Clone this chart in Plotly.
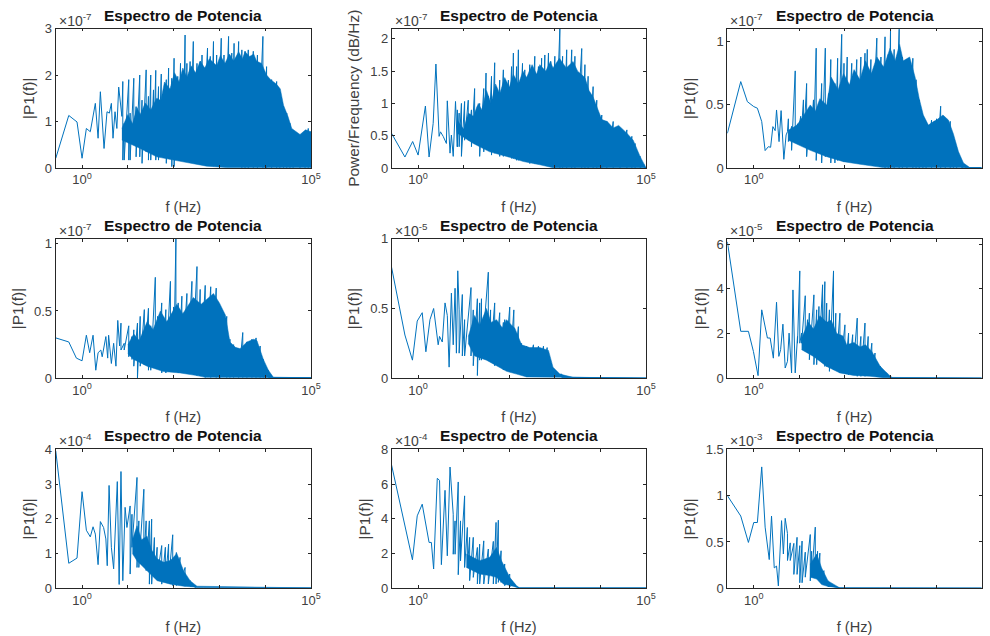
import plotly.graph_objects as go

# Each panel: low-frequency trace, individual spike tips, floor values under them,
# and the solid body of the dense spectrum (top and bottom edges).
# Frequencies are read as log10(f in Hz); amplitudes are in units of the panel's multiplier.
p1_low_f = [-.574,-.29,-.11,0,.094,.18,.29,.35,.40,.48,.545,.596,.64,.676,.72,.76,.80,.87]
p1_low_y = [.21,1.13,.99,.21,.85,.78,1.39,.64,1.64,.42,1.21,1.18,1.39,.64,1.21,.85,1.74,1.11]
p1_up_f = [.87,.89,.92,1.02,1.05,1.13,1.18,1.26,1.31,1.40,1.45,1.50,1.56,1.61,1.67,1.73,1.84,1.89,1.96,2.01,2.09,2.15,2.20,2.25,2.29,2.36,2.43,2.51,2.58,2.62,2.74,2.80,2.87,2.94,3.04,3.10,3.20,3.27,3.32,3.42,3.49,3.56,3.63,3.74,3.83,3.95,4.03,4.14,4.25,4.32,4.40,4.47,4.54,4.61,4.76,4.87,4.94,5]
p1_up_y = [1.11,1.86,.96,1.90,1.18,1.93,1.32,2.00,1.46,2.11,1.54,2.00,1.68,2.10,1.75,2.02,1.90,2.15,1.93,2.36,1.97,2.25,2.07,2.86,2.25,2.29,2.72,2.25,2.29,2.43,2.58,2.40,2.72,2.43,2.79,2.43,2.83,2.47,2.68,2.72,2.54,2.51,2.54,2.51,2.43,2.83,2.18,1.90,1.86,1.54,1.32,1.18,.96,.78,.71,.78,.85,.78]
p1_lo_f = [.87,.89,.94,1.02,1.09,1.16,1.31,1.38,1.45,1.53,1.60,1.71,1.82,1.89,1.94,2.04,2.15,2.25,2.40,2.54,2.73,2.87,3.02,3.16,3.31,3.45,5]
p1_lo_y = [1.11,.17,.46,.17,.53,.24,.10,.35,.17,.32,.17,.24,.10,.21,.03,.21,.17,.24,.17,.14,.06,.04,.06,.04,.03,.01,.01]
p1_top_f = [.87,1.0,1.1,1.2,1.27,1.38,1.5,1.63,1.72,1.8,1.92,2.02,2.12,2.2,2.29,2.38,2.48,2.58,2.68,2.78,2.94,3.02,3.12,3.22,3.31,3.42,3.5,3.56,3.66,3.75,3.81,3.92,4.03,4.12,4.25,4.33,4.40,4.50,4.58,4.76,4.88,5]
p1_top_y = [.85,1.15,.95,1.3,1.15,1.4,1.25,1.5,1.45,1.85,1.7,2.05,1.85,2.15,1.95,2.2,2.05,2.3,2.15,2.35,2.2,2.42,2.25,2.45,2.3,2.5,2.35,2.5,2.4,2.45,2.3,2.25,2.0,1.9,1.8,1.7,1.35,1.1,.85,.72,.82,.78]
p1_bot_f = [.87,1.27,1.63,2.0,2.36,2.72,3.16,5]
p1_bot_y = [.6,.42,.24,.17,.10,.04,.01,.01]

p2_low_f = [-.586,-.29,-.12,0,.16,.24,.33,.39,.46,.49,.55,.62,.64,.70,.73,.77,.82,.86]
p2_low_y = [.54,.17,.41,.20,.96,.17,.69,1.61,.49,.56,.49,.38,1.04,.23,.51,.18,1.03,.33]
p2_up_f = [.86,.90,.95,1.02,1.10,1.17,1.24,1.30,1.35,1.44,1.49,1.54,1.61,1.68,1.73,1.79,1.87,1.92,1.98,2.05,2.09,2.16,2.20,2.29,2.34,2.45,2.56,2.64,2.71,2.78,2.86,2.91,3.00,3.11,3.17,3.26,3.37,3.44,3.59,3.66,3.73,3.84,3.92,4.03,4.14,4.28,4.43,4.58,4.69,4.76,4.87,4.96,5]
p2_up_y = [.90,.85,1.00,1.03,1.05,.90,1.23,.95,1.00,1.23,1.47,1.11,1.42,1.63,1.21,1.36,1.52,1.29,1.36,1.57,1.78,1.57,1.83,1.62,1.52,1.60,1.73,1.57,1.70,1.75,1.78,1.65,1.73,2.16,1.73,1.83,1.83,1.73,1.85,1.60,1.42,1.26,1.05,.82,.72,.72,.61,.59,.49,.38,.18,.05,.01]
p2_lo_f = [.86,.93,1.02,1.12,1.17,1.24,1.32,1.39,1.46,1.55,1.59,1.68,1.79,1.90,2.01,2.16,2.38,2.60,2.82,2.96,5]
p2_lo_y = [.33,.18,.43,.46,.33,.38,.18,.25,.33,0,.20,.23,.18,.20,.15,.12,.07,.07,.03,.005,.005]
p2_top_f = [.86,1.0,1.1,1.21,1.32,1.40,1.50,1.6,1.7,1.79,1.9,2.0,2.09,2.2,2.3,2.38,2.5,2.6,2.67,2.8,2.9,2.96,3.1,3.25,3.40,3.5,3.66,3.75,3.84,3.95,4.03,4.15,4.28,4.4,4.58,4.72,4.87,5]
p2_top_y = [.74,.6,.85,.8,1.0,.9,1.2,1.0,1.3,1.15,1.4,1.25,1.45,1.3,1.5,1.4,1.6,1.45,1.6,1.5,1.65,1.55,1.7,1.55,1.65,1.5,1.4,1.2,1.1,.9,.75,.72,.62,.66,.54,.43,.18,.005]
p2_bot_f = [.86,1.21,1.57,1.94,2.31,2.67,2.96,5]
p2_bot_y = [.54,.38,.25,.18,.10,.05,.005,.005]

p3_low_f = [-.578,-.285,-.14,0,.08,.175,.25,.32,.37,.42,.47,.50,.555,.60,.66,.71,.74,.76]
p3_low_y = [.275,.685,.526,.487,.474,.368,.138,.169,.164,.328,.296,.46,.209,.455,.069,.262,.288,.39]
p3_up_f = [.76,.83,.91,.96,1.03,1.09,1.16,1.24,1.31,1.37,1.43,1.49,1.57,1.64,1.69,1.78,1.84,1.93,1.98,2.05,2.15,2.26,2.35,2.44,2.49,2.57,2.70,2.79,2.88,2.95,3.00,3.08,3.19,3.26,3.36,3.49,3.56,3.63,3.71,3.78,3.90,4.01,4.10,4.20,4.31,4.38,4.45,4.56,4.63,4.74,5]
p3_up_y = [.39,.33,.77,.35,.41,.54,.67,.46,.54,.95,.49,.67,.95,.59,.86,.67,.87,1.06,.83,.88,.83,.86,.88,.91,.94,.86,1.03,.88,1.04,.90,1.10,.94,1.10,.88,.86,.87,.70,.54,.41,.33,.38,.39,.49,.39,.37,.25,.16,.05,.01,.003,.003]
p3_lo_f = [.76,.83,.91,.98,1.09,1.16,1.24,1.32,1.42,1.49,1.56,1.66,1.82,1.97,2.11,2.26,2.44,2.62,2.84,5]
p3_lo_y = [.21,.14,.25,.20,.17,.09,.17,.06,.13,.04,.09,.04,.06,.05,.05,.04,.03,.02,.003,.003]
p3_top_f = [.76,.95,1.1,1.24,1.35,1.45,1.6,1.7,1.85,1.97,2.1,2.2,2.33,2.45,2.58,2.70,2.85,2.99,3.1,3.2,3.28,3.42,3.54,3.63,3.72,3.83,3.95,4.01,4.15,4.27,4.38,4.49,4.60,4.74,5]
p3_top_y = [.3,.34,.42,.5,.45,.55,.5,.72,.62,.75,.66,.78,.7,.85,.75,.88,.8,.95,.85,.98,.85,.88,.72,.55,.42,.34,.37,.38,.42,.38,.27,.13,.04,.003,.003]
p3_bot_f = [.76,1.24,1.60,1.97,2.33,2.84,5]
p3_bot_y = [.22,.14,.09,.05,.03,.003,.003]

p4_low_f = [-.574,-.29,-.124,0,.094,.167,.24,.30,.35,.41,.44,.52,.56,.58,.64,.69,.74,.78,.82,.85]
p4_low_y = [.30,.27,.15,.13,.32,.19,.32,.06,.19,.21,.16,.31,.15,.32,.11,.26,.09,.43,.24,.41]
p4_up_f = [.85,.92,1.02,1.09,1.13,1.21,1.27,1.36,1.45,1.50,1.60,1.65,1.74,1.83,1.93,2.00,2.05,2.10,2.18,2.29,2.40,2.51,2.58,2.69,2.81,2.93,3.02,3.16,3.23,3.31,3.42,3.51,3.60,3.71,3.80,3.89,3.96,4.07,4.18,5]
p4_up_y = [.41,.26,.39,.31,.36,.41,.46,.51,.52,.39,.75,.46,.56,.51,.72,.53,1.04,.56,.61,.63,.72,.83,.66,.69,.68,.67,.53,.46,.29,.25,.22,.34,.27,.29,.30,.24,.14,.06,.007,.005]
p4_lo_f = [.85,.94,1.05,1.13,1.20,1.26,1.34,1.45,1.56,1.67,1.85,2.07,2.29,2.51,2.65,5]
p4_lo_y = [.21,.16,.14,.09,0,.09,.10,.06,.09,.04,.06,.04,.04,.02,.007,.005]
p4_top_f = [1.0,1.13,1.25,1.42,1.55,1.71,1.85,2.07,2.2,2.43,2.6,2.87,3.0,3.13,3.23,3.35,3.45,3.60,3.75,3.82,3.96,4.07,4.18,5]
p4_top_y = [.25,.33,.28,.42,.36,.50,.42,.55,.48,.6,.55,.63,.56,.47,.27,.23,.22,.27,.29,.28,.14,.06,.007,.005]
p4_bot_f = [1.0,1.13,1.42,1.78,2.14,2.51,2.69,5]
p4_bot_y = [.18,.14,.09,.05,.04,.02,.007,.005]

p5_low_f = [-.586,-.29,-.125,-.02,.09,.17,.26,.34,.44,.47,.53,.59,.64,.68,.73,.77,.81,.84,.87,.90]
p5_low_y = [.80,.31,.13,.41,.47,.19,.42,.50,.24,.30,.26,.54,.45,.08,.61,.24,.645,.18,.77,.49]
p5_up_f = [.90,.97,1.02,1.16,1.21,1.30,1.35,1.39,1.54,1.59,1.68,1.79,1.87,1.90,2.01,2.10,2.20,2.27,2.38,2.53,2.64,2.75,2.83,2.91,3.00,3.15,3.40,5]
p5_up_y = [.49,.60,.42,.65,.49,.57,.54,.57,.76,.49,.54,.47,.40,.42,.51,.49,.37,.25,.23,.24,.23,.23,.22,.11,.05,.03,.007,.002]
p5_lo_f = [.90,.97,1.05,1.13,1.21,1.30,1.35,1.44,1.54,1.61,1.72,1.87,2.01,2.16,2.31,2.67,2.96,3.11,5]
p5_lo_y = [.18,.16,.23,.16,.09,.02,.13,.09,.16,.09,.11,.06,.05,.04,.014,.014,.02,.007,.002]
p5_top_f = [1.1,1.24,1.35,1.5,1.6,1.72,1.85,1.94,2.05,2.12,2.27,2.45,2.67,2.86,2.96,3.11,3.40,5]
p5_top_y = [.3,.45,.38,.5,.4,.42,.36,.42,.38,.36,.24,.22,.22,.2,.08,.03,.007,.002]
p5_bot_f = [1.1,1.24,1.50,1.72,1.94,2.16,2.38,2.96,5]
p5_bot_y = [.25,.16,.13,.09,.05,.03,.01,.007,.002]

p6_low_f = [-.578,-.285,-.117,-.007,.095,.175,.30,.36,.43,.50,.55,.59,.64,.69,.74,.775,.83,.86,.91,.96]
p6_low_y = [6.1,2.1,2.1,1.2,.12,3.06,1.8,1.8,.9,3.4,.98,1.28,2.42,.46,.76,2.02,.24,3.95,.24,1.87]
p6_up_f = [.96,1.01,1.05,1.13,1.18,1.22,1.32,1.38,1.43,1.51,1.56,1.60,1.66,1.75,1.80,1.89,2.00,2.08,2.17,2.27,2.35,2.44,2.51,2.59,2.66,2.78,2.92,3.03,5]
p6_up_y = [1.87,4.8,2.02,3.69,2.62,2.91,3.73,3.06,3.21,4.18,4.32,3.36,3.06,4.8,2.91,2.91,2.39,2.02,1.95,2.69,1.87,2.47,1.87,1.57,1.13,.53,.24,.04,.01]
p6_lo_f = [.96,1.07,1.13,1.20,1.31,1.42,1.53,1.64,1.75,1.89,2.04,2.26,2.48,2.70,2.99,5]
p6_lo_y = [1.57,.13,1.28,.83,.61,.98,.53,.31,.39,.24,.16,.09,.16,.09,.02,.01]
p6_top_f = [1.05,1.2,1.31,1.45,1.60,1.7,1.82,1.95,2.04,2.2,2.33,2.45,2.59,2.77,2.92,3.03,5]
p6_top_y = [1.8,2.5,2.2,2.8,2.5,2.6,2.0,1.9,1.5,1.6,1.4,1.5,1.2,.55,.24,.04,.01]
p6_bot_f = [1.05,1.31,1.60,1.89,2.19,2.55,2.84,5]
p6_bot_y = [1.28,.98,.53,.24,.13,.09,.03,.01]

p7_low_f = [-.574,-.29,-.11,0,.094,.18,.24,.29,.35,.40,.47,.52,.55,.59,.64,.69,.77,.81,.85,.89,.94,.98]
p7_low_y = [3.95,.72,.87,2.78,1.67,1.48,1.77,1.56,.68,1.92,1.75,1.42,.65,2.96,1.18,.56,3.07,.11,3.36,.22,2.33,1.75]
p7_up_f = [.98,1.05,1.09,1.20,1.24,1.35,1.40,1.47,1.52,1.58,1.64,1.74,1.82,1.89,1.98,2.06,2.14,2.25,2.36,2.47,2.65,5]
p7_up_y = [1.75,2.37,2.13,3.19,1.94,2.85,1.94,1.94,1.99,1.46,1.18,1.23,1.18,1.27,1.54,1.03,.89,.60,.22,.08,.01,.01]
p7_lo_f = [.98,1.02,1.07,1.13,1.20,1.27,1.36,1.45,1.56,1.67,1.78,1.93,2.07,2.25,2.47,5]
p7_lo_y = [1.75,.41,1.18,.65,.60,.89,.51,.12,.36,.12,.22,.08,.12,.06,.01,.01]
p7_top_f = [1.10,1.20,1.3,1.42,1.52,1.64,1.78,1.93,2.07,2.22,2.36,2.51,5]
p7_top_y = [1.4,1.8,1.4,1.5,1.1,.85,.75,.8,1.0,.5,.22,.06,.01]
p7_bot_f = [1.10,1.20,1.42,1.64,1.93,2.22,2.51,5]
p7_bot_y = [1.0,.79,.51,.22,.12,.06,.03,.01]

p8_low_f = [-.586,-.125,-.02,.09,.24,.29,.34,.42,.47,.51,.59,.64,.70]
p8_low_y = [7.13,1.64,4.17,4.84,2.64,2.64,1.11,6.33,6.21,1.36,5.64,1.87,6.98]
p8_up_f = [.70,.77,.81,.88,.93,1.02,1.08,1.13,1.21,1.30,1.35,1.44,1.54,1.65,1.71,1.76,1.82,1.90,2.01,2.12,2.23,5]
p8_up_y = [6.98,4.26,3.88,6.12,3.88,5.32,3.5,2.93,2.93,2.35,2.54,2.73,2.26,2.7,3.79,3.92,2.16,1.4,.82,.25,.02,.02]
p8_lo_f = [.70,.73,.83,.90,.99,1.10,1.17,1.28,1.43,1.61,1.72,1.87,2.01,2.23,5]
p8_lo_y = [6.98,1.96,.78,1.58,1.2,.44,.63,.25,.25,.25,.34,.15,.11,.02,.02]
p8_top_f = [1.06,1.35,1.57,1.72,1.83,2.01,2.16,2.23,5]
p8_top_y = [1.97,1.59,1.78,2.35,1.59,.63,.15,.02,.02]
p8_bot_f = [1.06,1.35,1.57,1.72,1.87,2.23,5]
p8_bot_y = [1.2,.82,.73,.63,.25,.02,.02]

p9_low_f = [-.578,-.285,-.117,0,.08,.175,.25,.34,.39,.45,.50,.54,.61,.65,.69]
p9_low_y = [1.0,.78,.495,.71,.71,1.31,.66,.31,.78,.22,.24,.025,.73,.37,.755]
p9_up_f = [.69,.74,.80,.88,.95,1.01,1.06,1.13,1.24,1.27,1.35,1.40,1.45,1.54,1.63,1.75,1.89,5]
p9_up_y = [.755,.59,.49,.485,.55,.46,.51,.39,.58,.40,.66,.40,.38,.19,.08,.025,.004,.002]
p9_lo_f = [.69,.74,.81,.88,.98,1.07,1.16,1.27,1.38,1.49,1.63,1.89,5]
p9_lo_y = [.755,.30,.21,.15,.06,.12,.08,.12,.10,.04,.02,.004,.002]
p9_top_f = [1.24,1.38,1.49,1.63,1.89,5]
p9_top_y = [.26,.37,.22,.08,.004,.002]
p9_bot_f = [1.24,1.38,1.49,1.63,1.89,5]
p9_bot_y = [.12,.10,.04,.02,.004,.002]

low_f = [p1_low_f,p2_low_f,p3_low_f,p4_low_f,p5_low_f,p6_low_f,p7_low_f,p8_low_f,p9_low_f]
low_y = [p1_low_y,p2_low_y,p3_low_y,p4_low_y,p5_low_y,p6_low_y,p7_low_y,p8_low_y,p9_low_y]
up_f = [p1_up_f,p2_up_f,p3_up_f,p4_up_f,p5_up_f,p6_up_f,p7_up_f,p8_up_f,p9_up_f]
up_y = [p1_up_y,p2_up_y,p3_up_y,p4_up_y,p5_up_y,p6_up_y,p7_up_y,p8_up_y,p9_up_y]
lo_f = [p1_lo_f,p2_lo_f,p3_lo_f,p4_lo_f,p5_lo_f,p6_lo_f,p7_lo_f,p8_lo_f,p9_lo_f]
lo_y = [p1_lo_y,p2_lo_y,p3_lo_y,p4_lo_y,p5_lo_y,p6_lo_y,p7_lo_y,p8_lo_y,p9_lo_y]
top_f = [p1_top_f,p2_top_f,p3_top_f,p4_top_f,p5_top_f,p6_top_f,p7_top_f,p8_top_f,p9_top_f]
top_y = [p1_top_y,p2_top_y,p3_top_y,p4_top_y,p5_top_y,p6_top_y,p7_top_y,p8_top_y,p9_top_y]
bot_f = [p1_bot_f,p2_bot_f,p3_bot_f,p4_bot_f,p5_bot_f,p6_bot_f,p7_bot_f,p8_bot_f,p9_bot_f]
bot_y = [p1_bot_y,p2_bot_y,p3_bot_y,p4_bot_y,p5_bot_y,p6_bot_y,p7_bot_y,p8_bot_y,p9_bot_y]

exponents = [-7,-7,-7,-7,-5,-5,-4,-4,-3]
y_tops = [3,2.16,1.106,1.037,1,6.24,4,8,1.5]
y_ticks = [[0,1,2,3],[0,.5,1,1.5,2],[0,.5,1],[0,.5,1],[0,.5,1],[0,2,4,6],[0,1,2,3,4],[0,2,4,6,8],[0,.5,1,1.5]]
y_tick_labels = [["0","1","2","3"],["0","0.5","1","1.5","2"],["0","0.5","1"],["0","0.5","1"],["0","0.5","1"],
                 ["0","2","4","6"],["0","1","2","3","4"],["0","2","4","6","8"],["0","0.5","1","1.5"]]
y_titles = ["|P1(f)|","Power/Frequency (dB/Hz)"] + ["|P1(f)|"]*7
x_title = "f (Hz)"
panel_title = "Espectro de Potencia"
x_ticks = [1,10,100,1000,10000,100000]
x_tick_labels = ["10<sup>0</sup>","","","","","10<sup>5</sup>"]

W, H = 990, 636
col_x = [(55.5,311),(391.7,646),(727.3,981.7)]
row_y = [(28.5,168),(238.7,378.3),(449.3,588.3)]
BLUE, INK, GREY = "#0072BD", "#262626", "#404040"
FONT = "Liberation Sans, Arial, sans-serif"

def floor_at(f, fs, ys):
    val = ys[0]
    for a, b in zip(fs, ys):
        if a <= f:
            val = b
    return val

fig = go.Figure()
layout = dict(width=W, height=H, margin=dict(l=0,r=0,t=0,b=0), paper_bgcolor="white", plot_bgcolor="white",
              showlegend=False, font=dict(family=FONT, color=GREY, size=13))
notes = []
for i in range(9):
    r, c = i//3, i%3
    n = "" if i == 0 else str(i+1)
    (xl,xr),(yt,yb) = col_x[c], row_y[r]
    sx = [10**v for v in low_f[i]]
    sy = list(low_y[i])
    for f, y in zip(up_f[i], up_y[i]):
        sx += [10**f, 10**f]
        sy += [y, floor_at(f, lo_f[i], lo_y[i])]
    fig.add_trace(go.Scatter(x=sx, y=sy, mode="lines", line=dict(color=BLUE,width=1),
                             xaxis="x"+n, yaxis="y"+n, hoverinfo="skip"))
    band_f = [10**v for v in top_f[i]] + [10**v for v in reversed(bot_f[i])]
    band_y = top_y[i] + bot_y[i][::-1]
    fig.add_trace(go.Scatter(x=band_f, y=band_y, mode="lines", fill="toself", fillcolor=BLUE,
                             line=dict(color=BLUE,width=.5), xaxis="x"+n, yaxis="y"+n, hoverinfo="skip"))
    layout["xaxis"+n] = dict(type="log", range=[-.58,5], domain=[xl/W,xr/W], anchor="y"+n, automargin=False,
        tickvals=x_ticks, ticktext=x_tick_labels, ticks="inside", ticklen=3, tickwidth=.7, tickcolor=INK,
        showgrid=False, zeroline=False, showline=True, linecolor=INK, linewidth=.7, mirror="allticks",
        tickfont=dict(size=13,color=GREY,family=FONT), title=dict(text=x_title,font=dict(size=14.5,color=GREY,family=FONT)))
    layout["yaxis"+n] = dict(range=[0,y_tops[i]], domain=[1-yb/H,1-yt/H], anchor="x"+n, automargin=False,
        tickvals=y_ticks[i], ticktext=y_tick_labels[i], ticks="inside", ticklen=3, tickwidth=.7, tickcolor=INK,
        showgrid=False, zeroline=False, showline=True, linecolor=INK, linewidth=.7, mirror="allticks",
        tickfont=dict(size=13,color=GREY,family=FONT),
        title=dict(text=y_titles[i],standoff=6,font=dict(size=15.4,color=GREY,family=FONT)))
    notes.append(dict(text="<b>"+panel_title+"</b>", xref="paper", yref="paper", x=(xl+xr)/2/W, y=1-(yt-13.5)/H,
                      showarrow=False, xanchor="center", yanchor="middle", font=dict(size=15.5,color="#111111",family=FONT)))
    notes.append(dict(text="×10<sup>%d</sup>" % exponents[i], xref="paper", yref="paper", x=(xl+1)/W, y=1-(yt-9)/H,
                      showarrow=False, xanchor="left", yanchor="middle", font=dict(size=14,color=GREY,family=FONT)))
layout["annotations"] = notes
fig.update_layout(**layout)
fig.write_html("out.html", post_script="document.body.style.margin='0';", config=dict(displayModeBar=False))
